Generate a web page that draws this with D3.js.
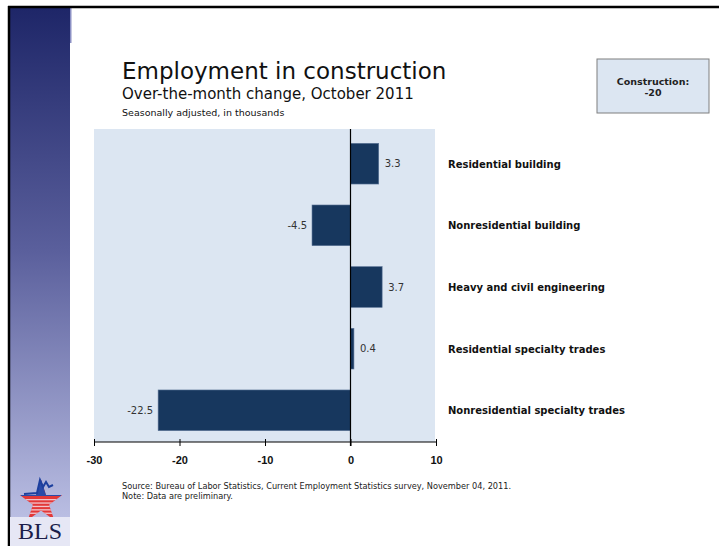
<!DOCTYPE html>
<html>
<head>
<meta charset="utf-8">
<script src="https://cdn.jsdelivr.net/npm/d3@7"></script>
<style>
  body { margin: 0; background: #fff; }
  svg { display: block; font-family: 'DejaVu Sans', Verdana, sans-serif; }
</style>
</head>
<body>
<div id="chart"></div>
<script>
const categories = [
  'Residential building',
  'Nonresidential building',
  'Heavy and civil engineering',
  'Residential specialty trades',
  'Nonresidential specialty trades'
];
const values = [3.3, -4.5, 3.7, 0.4, -22.5];
const xTicks = [-30, -20, -10, 0, 10];
const totalLabel = ['Construction:', '-20'];

const width = 719;
const height = 546;

const svg = d3.select('#chart').append('svg')
  .attr('width', width)
  .attr('height', height);

// sidebar gradient
const defs = svg.append('defs');
const grad = defs.append('linearGradient')
  .attr('id', 'side')
  .attr('x1', 0).attr('y1', 0).attr('x2', 0).attr('y2', 1);
grad.append('stop').attr('offset', '0%').attr('stop-color', '#1e2668');
grad.append('stop').attr('offset', '45%').attr('stop-color', '#5a5f9c');
grad.append('stop').attr('offset', '100%').attr('stop-color', '#c4c8ea');

svg.append('rect')
  .attr('x', 10).attr('y', 8)
  .attr('width', 60).attr('height', height - 8)
  .attr('fill', 'url(#side)');
svg.append('rect')
  .attr('x', 70).attr('y', 8)
  .attr('width', 1.5).attr('height', 35)
  .attr('fill', '#8b90c4');

// frame lines
svg.append('line')
  .attr('x1', 8).attr('x2', width).attr('y1', 7).attr('y2', 7)
  .attr('stroke', '#000').attr('stroke-width', 2.5);
svg.append('line')
  .attr('x1', 9).attr('x2', 9).attr('y1', 6).attr('y2', height)
  .attr('stroke', '#000').attr('stroke-width', 2.5);

// BLS logo
const logo = svg.append('g').attr('transform', 'translate(41, 502)');
const star = d3.symbol().type(d3.symbolStar).size(560);
logo.append('clipPath').attr('id', 'starclip')
  .append('path').attr('d', star());
logo.append('path').attr('d', star()).attr('fill', '#e23838');
logo.append('g').attr('clip-path', 'url(#starclip)')
  .call(g => g.append('rect')
    .attr('x', -20).attr('width', 40).attr('y', -30).attr('height', 24)
    .attr('fill', '#2a4aa8'))
  .selectAll('.stripe')
  .data(d3.range(5))
  .join('rect')
    .attr('class', 'stripe')
    .attr('x', -20).attr('width', 40)
    .attr('y', d => -3 + d * 3.4).attr('height', 1.3)
    .attr('fill', '#f2c4cc');
logo.append('path')
  .attr('d', 'M-17,-8 L-4,-9 L-1,-22 L2,-15 L5,-20 L8,-15 L12,-17')
  .attr('fill', 'none').attr('stroke', '#1c3f9e').attr('stroke-width', 2);
svg.append('rect')
  .attr('x', 10).attr('y', 517).attr('width', 60).attr('height', 29)
  .attr('fill', '#e6e7f5');
svg.append('text')
  .attr('x', 40).attr('y', 539)
  .attr('text-anchor', 'middle')
  .attr('font-family', "'Liberation Serif', 'Times New Roman', serif")
  .attr('font-size', 24)
  .attr('fill', '#1b1d4a')
  .text('BLS');

// titles
svg.append('text')
  .attr('x', 122).attr('y', 79)
  .attr('font-size', 23)
  .attr('fill', '#111')
  .text('Employment in construction');
svg.append('text')
  .attr('x', 122).attr('y', 99)
  .attr('font-size', 15)
  .attr('fill', '#111')
  .text('Over-the-month change, October 2011');
svg.append('text')
  .attr('x', 122).attr('y', 116)
  .attr('font-size', 9.5)
  .attr('fill', '#111')
  .text('Seasonally adjusted, in thousands');

// total box
const box = svg.append('g').attr('transform', 'translate(597, 59)');
box.append('rect')
  .attr('width', 112).attr('height', 54)
  .attr('fill', '#dce6f2')
  .attr('stroke', '#7f7f7f').attr('stroke-width', 1);
box.selectAll('text')
  .data(totalLabel)
  .join('text')
    .attr('x', 56).attr('y', (d, i) => 26 + i * 11)
    .attr('text-anchor', 'middle')
    .attr('font-size', 9.5).attr('font-weight', 'bold')
    .attr('fill', '#222')
    .text(d => d);

// plot
const plot = { left: 94, right: 436, top: 129, bottom: 442 };

const x = d3.scaleLinear()
  .domain([xTicks[0], xTicks[xTicks.length - 1]])
  .range([plot.left, plot.right]);

const y = d3.scaleBand()
  .domain(categories)
  .range([plot.top + 2, plot.bottom + 1])
  .paddingInner(0.34)
  .paddingOuter(0.2);

svg.append('rect')
  .attr('x', plot.left).attr('y', plot.top)
  .attr('width', plot.right - plot.left - 1)
  .attr('height', plot.bottom - plot.top)
  .attr('fill', '#dce6f2');

svg.selectAll('.bar')
  .data(values)
  .join('rect')
    .attr('class', 'bar')
    .attr('x', d => x(Math.min(0, d)))
    .attr('width', d => Math.abs(x(d) - x(0)))
    .attr('y', (d, i) => y(categories[i]))
    .attr('height', y.bandwidth())
    .attr('fill', '#17375e')
    .attr('stroke', '#5a7396').attr('stroke-width', 0.6);

svg.selectAll('.val')
  .data(values)
  .join('text')
    .attr('class', 'val')
    .attr('x', d => d < 0 ? x(d) - 5 : x(d) + 6)
    .attr('y', (d, i) => y(categories[i]) + y.bandwidth() / 2 + 3.5)
    .attr('text-anchor', d => d < 0 ? 'end' : 'start')
    .attr('font-size', 10)
    .attr('fill', '#333')
    .text(d => d.toFixed(1));

svg.selectAll('.cat')
  .data(categories)
  .join('text')
    .attr('class', 'cat')
    .attr('x', 448)
    .attr('y', d => y(d) + y.bandwidth() / 2 + 4)
    .attr('font-size', 10).attr('font-weight', 'bold')
    .attr('fill', '#111')
    .text(d => d);

// zero line
svg.append('line')
  .attr('x1', x(0)).attr('x2', x(0))
  .attr('y1', plot.top).attr('y2', plot.bottom + 4)
  .attr('stroke', '#000').attr('stroke-width', 1.2);

// x axis
const xAxis = d3.axisBottom(x)
  .tickValues(xTicks)
  .tickFormat(d => String(d))
  .tickSize(4)
  .tickSizeOuter(0)
  .tickPadding(10);

const gx = svg.append('g')
  .attr('transform', `translate(0, ${plot.bottom})`)
  .call(xAxis);
gx.select('.domain').attr('stroke', '#000').attr('stroke-width', 1.2)
  .attr('d', `M${plot.left},0H${plot.right}`);
gx.selectAll('.tick line').attr('stroke', '#000').attr('y1', -3).attr('y2', 4);
gx.selectAll('.tick text')
  .attr('font-size', 11).attr('font-weight', 'bold')
  .attr('font-family', "'Liberation Sans', Arial, sans-serif")
  .attr('fill', '#111');

// notes
svg.selectAll('.note')
  .data([
    'Source: Bureau of Labor Statistics, Current Employment Statistics survey, November 04, 2011.',
    'Note: Data are preliminary.'
  ])
  .join('text')
    .attr('class', 'note')
    .attr('x', 122)
    .attr('y', (d, i) => 489 + i * 10)
    .attr('font-size', 8.2)
    .attr('fill', '#222')
    .text(d => d);
</script>
</body>
</html>
